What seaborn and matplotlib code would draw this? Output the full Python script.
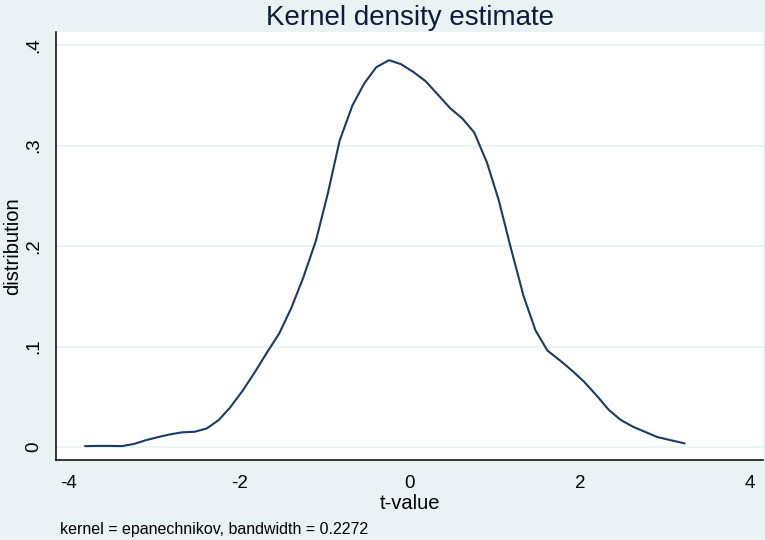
import matplotlib
matplotlib.use("Agg")
import matplotlib.pyplot as plt
import seaborn as sns
import pandas as pd

# Density curve (t-value vs estimated density)
t_values = [-3.81, -3.66, -3.52, -3.38, -3.24, -3.09, -2.95, -2.81, -2.67, -2.52,
            -2.38, -2.24, -2.11, -1.96, -1.82, -1.68, -1.53, -1.39, -1.25, -1.10,
            -0.96, -0.82, -0.67, -0.53, -0.39, -0.24, -0.10, 0.05, 0.19, 0.33,
            0.48, 0.62, 0.76, 0.91, 1.05, 1.19, 1.34, 1.48, 1.62, 1.77,
            1.91, 2.05, 2.20, 2.34, 2.48, 2.63, 2.77, 2.91, 3.06, 3.23]
density = [0.0010, 0.0012, 0.0012, 0.0010, 0.0030, 0.0070, 0.0100, 0.0127, 0.0147, 0.0153,
           0.0186, 0.0269, 0.0390, 0.0560, 0.0740, 0.0932, 0.1130, 0.1380, 0.1680, 0.2050,
           0.2520, 0.3050, 0.3400, 0.3620, 0.3780, 0.3850, 0.3810, 0.3730, 0.3640, 0.3510,
           0.3370, 0.3270, 0.3130, 0.2830, 0.2450, 0.1980, 0.1500, 0.1160, 0.0960, 0.0860,
           0.0760, 0.0650, 0.0510, 0.0370, 0.0270, 0.0200, 0.0150, 0.0100, 0.0070, 0.0037]

x_ticks = [-4, -2, 0, 2, 4]
x_tick_labels = ["-4", "-2", "0", "2", "4"]
y_ticks = [0, 0.1, 0.2, 0.3, 0.4]
y_tick_labels = ["0", ".1", ".2", ".3", ".4"]

df = pd.DataFrame({"t-value": t_values, "distribution": density})

bg = "#EAF2F3"
sns.set_style("white")
plt.rcParams["font.family"] = ["Liberation Sans", "DejaVu Sans"]
plt.rcParams["axes.unicode_minus"] = False

fig = plt.figure(figsize=(7.65, 5.40), dpi=100, facecolor=bg)
ax = fig.add_axes([0.0732, 0.148, 0.9242, 0.7927])
ax.set_facecolor("white")

sns.lineplot(data=df, x="t-value", y="distribution", ax=ax,
             color="#1a3a68", linewidth=1.5, sort=False)

ax.set_xlim(-4.15, 4.15)
ax.set_ylim(-0.0129, 0.413)
ax.set_xticks(x_ticks)
ax.set_xticklabels(x_tick_labels)
ax.set_yticks(y_ticks)
ax.set_yticklabels(y_tick_labels, rotation=90, va="center")
ax.tick_params(axis="both", direction="out", length=6, width=1.0,
               color="black", labelsize=13.5, labelcolor="black")
ax.tick_params(axis="x", pad=4.5)
ax.tick_params(axis="y", pad=4)

ax.yaxis.grid(True, color=bg, linewidth=1.3)
ax.xaxis.grid(False)
ax.set_axisbelow(True)

for side in ["top", "right"]:
    ax.spines[side].set_visible(False)
for side in ["left", "bottom"]:
    ax.spines[side].set_color("black")
    ax.spines[side].set_linewidth(1.1)

ax.set_xlabel("t-value", fontsize=14.5, labelpad=2, color="black")
ax.set_ylabel("distribution", fontsize=14.5, labelpad=2, color="black")
ax.set_title("Kernel density estimate", fontsize=20, color="#0d1b3e", pad=5)

fig.text(60 / 765, 6 / 540, "kernel = epanechnikov, bandwidth = 0.2272",
         fontsize=11.5, color="black", ha="left", va="baseline")

fig.savefig("out.png", dpi=100, facecolor=bg)
